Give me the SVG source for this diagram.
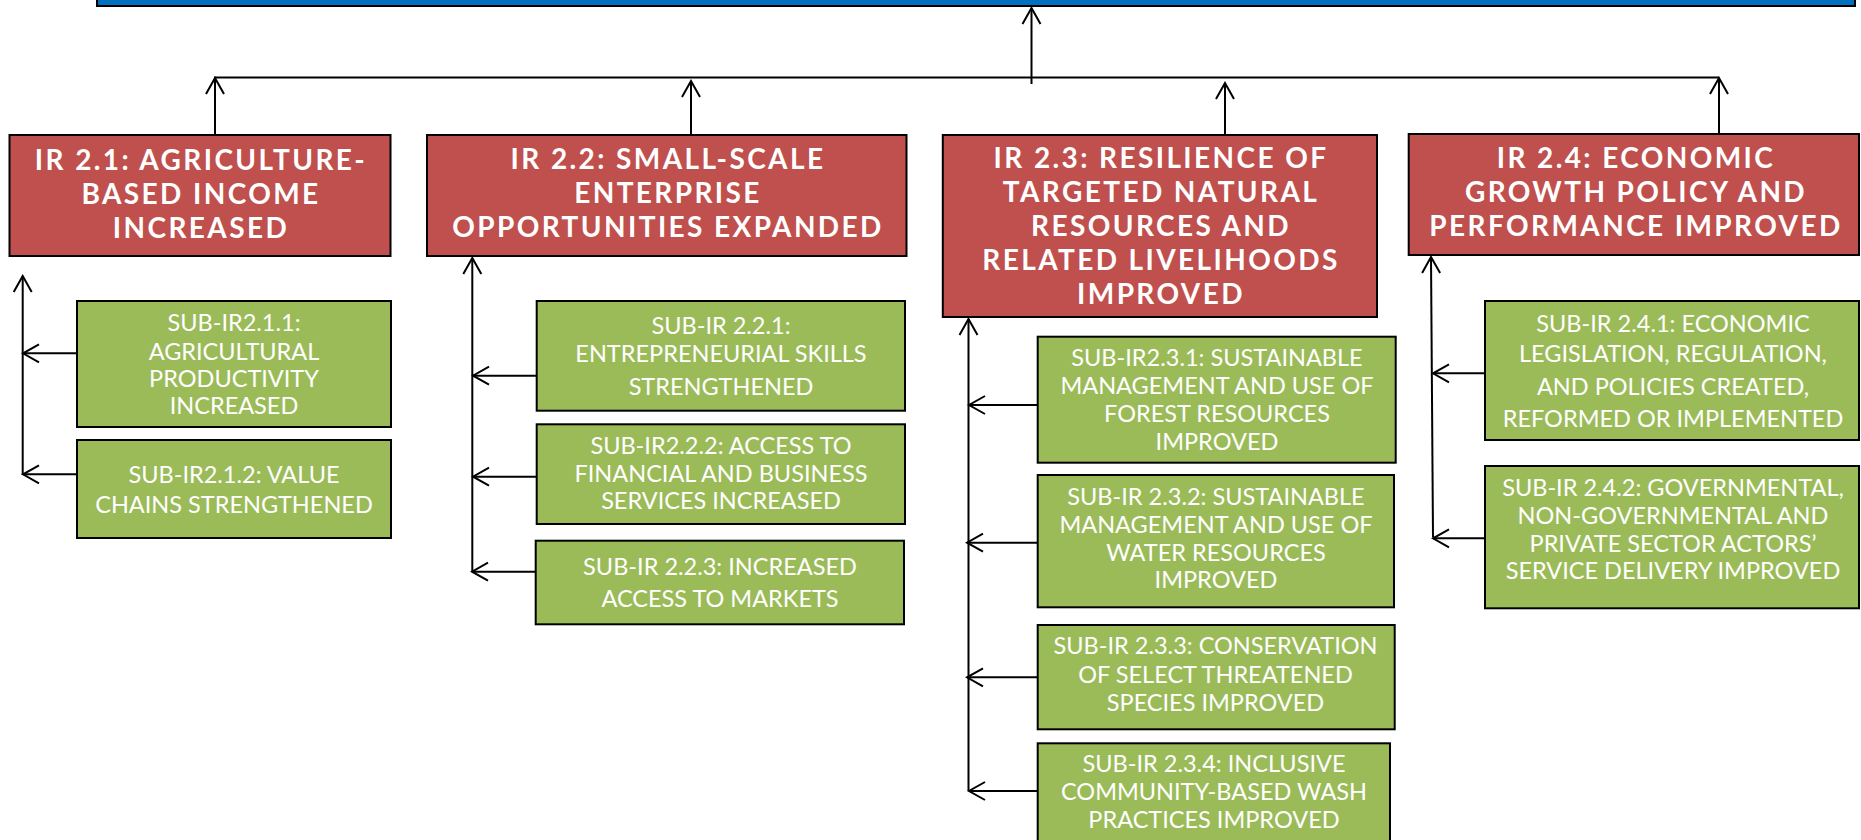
<svg xmlns="http://www.w3.org/2000/svg" width="1861" height="840" viewBox="0 0 1861 840">
<style>
.bar{fill:#0070C0;stroke:#000;stroke-width:2}
.ir rect{fill:#C0504D;stroke:#000;stroke-width:2}
.sub rect{fill:#9BBB59;stroke:#000;stroke-width:2}
.ir text{font-family:Lato,"Open Sans","Liberation Sans",sans-serif;font-weight:bold;font-size:28px;fill:#fff;text-anchor:middle;letter-spacing:2.4px}
.sub text{font-family:Lato,"Open Sans","Liberation Sans",sans-serif;font-size:23.5px;fill:#fff;text-anchor:middle}
.conn path{fill:none;stroke:#000;stroke-width:2}
</style>
<defs>
<marker id="ah" viewBox="-18 -11 20 22" refX="0" refY="0" markerWidth="20" markerHeight="22" markerUnits="userSpaceOnUse" orient="auto">
<path d="M-16,-9 L0,0 L-16,9" fill="none" stroke="#000" stroke-width="2"/>
</marker>
</defs>
<rect class="bar" x="97" y="-10" width="1758" height="16"/>

<g class="conn">
<path d="M1031.5,84 V8" marker-end="url(#ah)"/>
<path d="M215,135 V77.5 H1719"/>
<path d="M215,135 V78" marker-end="url(#ah)"/>
<path d="M691,135 V81" marker-end="url(#ah)"/>
<path d="M1225,135 V83" marker-end="url(#ah)"/>
<path d="M1719,134 V78" marker-end="url(#ah)"/>
<path d="M22.7,475 V276" marker-end="url(#ah)"/>
<path d="M77,353.3 H23" marker-end="url(#ah)"/>
<path d="M77,474.3 H23" marker-end="url(#ah)"/>
<path d="M472.3,572 V258" marker-end="url(#ah)"/>
<path d="M536.7,375.7 H473" marker-end="url(#ah)"/>
<path d="M536.7,476.7 H473" marker-end="url(#ah)"/>
<path d="M539,571.7 H472" marker-end="url(#ah)"/>
<path d="M968.5,791 V319" marker-end="url(#ah)"/>
<path d="M1037.7,405 H969" marker-end="url(#ah)"/>
<path d="M1037.7,542.7 H967" marker-end="url(#ah)"/>
<path d="M1037.7,677.3 H967" marker-end="url(#ah)"/>
<path d="M1037.7,791 H969" marker-end="url(#ah)"/>
<path d="M1433,537.3 L1431,257" marker-end="url(#ah)"/>
<path d="M1485,373.3 H1433" marker-end="url(#ah)"/>
<path d="M1485,538.3 H1433" marker-end="url(#ah)"/>
</g>

<g id="ir21" class="ir">
<rect x="9.5" y="135" width="381" height="121"/>
<text x="201" y="170">IR 2.1: AGRICULTURE-</text>
<text x="201" y="203.5">BASED INCOME</text>
<text x="201" y="237.5">INCREASED</text>
</g>
<g id="ir22" class="ir">
<rect x="427" y="135" width="479.5" height="121"/>
<text x="668" y="169">IR 2.2: SMALL-SCALE</text>
<text x="668" y="203">ENTERPRISE</text>
<text x="668" y="237">OPPORTUNITIES EXPANDED</text>
</g>
<g id="ir23" class="ir">
<rect x="942.8" y="135" width="434.2" height="182"/>
<text x="1161" y="168">IR 2.3: RESILIENCE OF</text>
<text x="1161" y="202">TARGETED NATURAL</text>
<text x="1161" y="236">RESOURCES AND</text>
<text x="1161" y="270">RELATED LIVELIHOODS</text>
<text x="1161" y="304">IMPROVED</text>
</g>
<g id="ir24" class="ir">
<rect x="1408.7" y="134" width="450.3" height="121"/>
<text x="1636" y="168">IR 2.4: ECONOMIC</text>
<text x="1636" y="202">GROWTH POLICY AND</text>
<text x="1636" y="236">PERFORMANCE IMPROVED</text>
</g>

<g id="sub211" class="sub">
<rect x="77" y="301" width="314" height="126"/>
<text x="234" y="331">SUB-IR2.1.1:</text>
<text x="234" y="359.5">AGRICULTURAL</text>
<text x="234" y="387">PRODUCTIVITY</text>
<text x="234" y="414">INCREASED</text>
</g>
<g id="sub212" class="sub">
<rect x="77" y="440" width="314" height="98"/>
<text x="234" y="482.5">SUB-IR2.1.2: VALUE</text>
<text x="234" y="513">CHAINS STRENGTHENED</text>
</g>
<g id="sub221" class="sub">
<rect x="536.7" y="301" width="368.3" height="109.7"/>
<text x="721" y="333.5">SUB-IR 2.2.1:</text>
<text x="721" y="362">ENTREPRENEURIAL SKILLS</text>
<text x="721" y="395">STRENGTHENED</text>
</g>
<g id="sub222" class="sub">
<rect x="536.7" y="424.3" width="368.3" height="99.7"/>
<text x="721" y="454">SUB-IR2.2.2: ACCESS TO</text>
<text x="721" y="481.5">FINANCIAL AND BUSINESS</text>
<text x="721" y="509.3">SERVICES INCREASED</text>
</g>
<g id="sub223" class="sub">
<rect x="535.7" y="540.7" width="368.3" height="83.6"/>
<text x="720" y="575">SUB-IR 2.2.3: INCREASED</text>
<text x="720" y="607.3">ACCESS TO MARKETS</text>
</g>
<g id="sub231" class="sub">
<rect x="1037.7" y="336.7" width="358" height="126"/>
<text x="1217" y="366">SUB-IR2.3.1: SUSTAINABLE</text>
<text x="1217" y="394">MANAGEMENT AND USE OF</text>
<text x="1217" y="421.7">FOREST RESOURCES</text>
<text x="1217" y="450">IMPROVED</text>
</g>
<g id="sub232" class="sub">
<rect x="1037.7" y="475" width="356.3" height="132.3"/>
<text x="1216" y="505">SUB-IR 2.3.2: SUSTAINABLE</text>
<text x="1216" y="533.3">MANAGEMENT AND USE OF</text>
<text x="1216" y="560.7">WATER RESOURCES</text>
<text x="1216" y="588.3">IMPROVED</text>
</g>
<g id="sub233" class="sub">
<rect x="1037.7" y="625" width="357" height="104.3"/>
<text x="1215.5" y="654.3">SUB-IR 2.3.3: CONSERVATION</text>
<text x="1215.5" y="682.7">OF SELECT THREATENED</text>
<text x="1215.5" y="710.7">SPECIES IMPROVED</text>
</g>
<g id="sub234" class="sub">
<rect x="1037.7" y="743.3" width="352.3" height="110"/>
<text x="1214" y="771.7">SUB-IR 2.3.4: INCLUSIVE</text>
<text x="1214" y="800">COMMUNITY-BASED WASH</text>
<text x="1214" y="828.3">PRACTICES IMPROVED</text>
</g>
<g id="sub241" class="sub">
<rect x="1485" y="301" width="374" height="139"/>
<text x="1673" y="331.5">SUB-IR 2.4.1: ECONOMIC</text>
<text x="1673" y="362">LEGISLATION, REGULATION,</text>
<text x="1673" y="395">AND POLICIES CREATED,</text>
<text x="1673" y="427">REFORMED OR IMPLEMENTED</text>
</g>
<g id="sub242" class="sub">
<rect x="1485" y="466" width="374" height="142.3"/>
<text x="1673" y="496">SUB-IR 2.4.2: GOVERNMENTAL,</text>
<text x="1673" y="524">NON-GOVERNMENTAL AND</text>
<text x="1673" y="551.7">PRIVATE SECTOR ACTORS’</text>
<text x="1673" y="579.3">SERVICE DELIVERY IMPROVED</text>
</g>
</svg>
